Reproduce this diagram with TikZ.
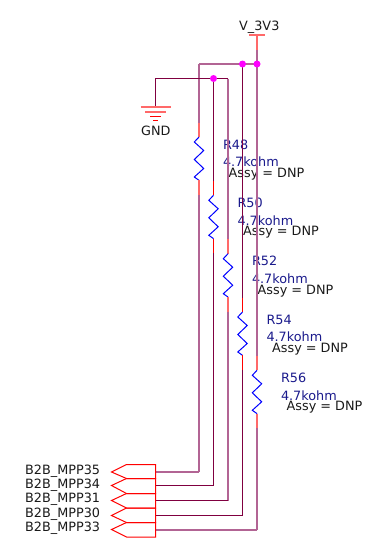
\documentclass[tikz,border=0pt]{standalone}
\usepackage{fontspec}
\setmainfont{DejaVu Sans}
\definecolor{wirec}{RGB}{128,0,64}
\definecolor{wirelc}{RGB}{178,100,148}
\definecolor{labc}{RGB}{26,26,140}
\definecolor{jcol}{RGB}{255,0,255}
\definecolor{redc}{RGB}{255,0,0}
\definecolor{redlc}{RGB}{255,105,105}
\definecolor{bluec}{RGB}{0,0,255}
\tikzset{
  wire/.style={draw=wirec,line width=1pt},
  wirel/.style={draw=wirelc,line width=2pt},
  stub/.style={draw=redc,line width=1pt},
  stubl/.style={draw=redlc,line width=2pt},
  res/.style={draw=bluec,line width=1pt},
  portsym/.style={draw=redc,line width=1pt},
  junct/.style={circle,fill=jcol,inner sep=0pt,minimum size=7pt},
  txt/.style={anchor=base west,inner sep=0pt,font=\fontsize{12.8}{14}\selectfont,text=black!90},
  lab/.style={txt,text=labc},
}
\begin{document}
\begin{tikzpicture}[x=1pt,y=-1pt]
\useasboundingbox (0,0) rectangle (382,552);
% rails
\coordinate (vtop) at (257,35);
\coordinate (vbarL) at (249,35);
\coordinate (vbarR) at (265,35);
\coordinate (vstub) at (257,49.5);
\coordinate (railL) at (199,64);
\coordinate (gndT) at (155.5,78.5);
\coordinate (gndB) at (155.5,107);
\coordinate (rail2R) at (228,78.5);
\coordinate (r1) at (257,64);
\coordinate (r2) at (242.5,64);
\coordinate (r3) at (213.5,78.5);
% resistors, ports, wires
\foreach \n/\x/\ry/\py/\top/\name/\pt/\pb/\tb/\ws/\ss/\hs in {
  48/199/137/472/railL/B2B_MPP35/464.5/478.5/474/wirel/stubl/wirel,
  50/213.5/195.3/485.5/r3/B2B_MPP34/478.5/493.5/488/wire/stub/wire,
  52/228/253.7/500.5/rail2R/B2B_MPP31/493.5/508/502.5/wirel/stubl/wire,
  54/242.5/312/515.5/r2/B2B_MPP30/508/522.5/517/wire/stub/wire,
  56/257/370.3/529.5/r1/B2B_MPP33/522.5/537/531.5/wirel/stubl/wirel}{
  \coordinate (r\n t) at (\x,\ry);
  \coordinate (r\n b) at (\x,\ry+43.3);
  \coordinate (s\n t) at (\x,\ry-14.5);
  \coordinate (s\n b) at (\x,\ry+57.8);
  \coordinate (e\n) at (\x,\py);
  \coordinate (pr\n) at (155.5,\py);
  \coordinate (pa\n) at (155.5,\pt);
  \coordinate (pb\n) at (155.5,\pb);
  \coordinate (pc\n) at (126.5,\pb);
  \coordinate (pd\n) at (126.5,\pt);
  \coordinate (pe\n) at (111.5,\py);
  \draw[\ws] (\top) -- (s\n t);
  \draw[\ss] (s\n t) -- (r\n t);
  \draw[res] (r\n t) -- ++(-4.7,5) -- ++(9.4,8.5) -- ++(-9.4,9) -- ++(9.4,9) -- ++(-9.4,8.5) -- (r\n b);
  \draw[\ss] (r\n b) -- (s\n b);
  \draw[\ws] (s\n b) -- (e\n);
  \draw[\hs] (e\n) -- (pr\n);
  \draw[portsym] (pa\n) -- (pb\n) -- (pc\n) -- (pe\n) -- (pd\n) -- cycle;
  \node[txt] (port\n) at (25,\tb) {\detokenize\expandafter{\name}};
  \pgfmathsetmacro{\lx}{\x+23.8}
  \node[lab] (name\n) at (\lx,\ry+12.2) {R\n};
  \node[lab] (val\n) at (\lx,\ry+29.7) {4.7kohm};
  \pgfmathsetmacro{\ax}{\x+29.5}
  \node[txt] (dnp\n) at (\ax,\ry+40.3) {Assy = DNP};
}
\draw[wirel] (railL) -- (r1);
\draw[wirel] (r1) -- (vstub);
\draw[stubl] (vstub) -- (vtop);
\draw[stubl] (vbarL) -- (vbarR);
\draw[wire] (gndB) -- (gndT) -- (r3) -- (rail2R);
\node[junct] (j1) at (r1) {};
\node[junct] (j2) at (r2) {};
\node[junct] (j3) at (r3) {};
% ground symbol
\draw[stubl] (140.5,107) -- (170.5,107);
\draw[stubl] (145,111.5) -- (166,111.5);
\draw[stub] (150,116) -- (161,116);
\draw[stub] (153,120) -- (158,120);
% power labels
\node[txt] (gndlab) at (141,135) {GND};
\node[txt] (vlab) at (239,30) {V\_3V3};
\end{tikzpicture}
\end{document}
